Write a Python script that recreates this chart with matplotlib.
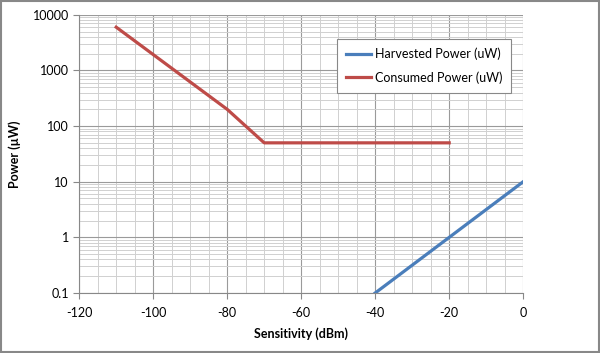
import matplotlib.pyplot as plt
from matplotlib.ticker import MultipleLocator, LogLocator, FixedLocator, NullFormatter
from matplotlib.patches import Rectangle

# series values
harv_x = [-40, -20, 0]
harv_y = [0.1, 1, 10]
cons_x = [-110, -80, -70, -20]
cons_y = [6000, 200, 50, 50]

y_ticks = [0.1, 1, 10, 100, 1000, 10000]
y_labels = ['0.1', '1', '10', '100', '1000', '10000']

plt.rcParams['font.family'] = ['Lato', 'DejaVu Sans']
plt.rcParams['axes.unicode_minus'] = False

fig = plt.figure(figsize=(6, 3.53), dpi=100)
ax = fig.add_axes([0.132, 0.17, 0.74, 0.788])

ax.plot(harv_x, harv_y, color='#4A7EBB', lw=2.3, label='Harvested Power (uW)')
ax.plot(cons_x, cons_y, color='#BE4B48', lw=2.3, label='Consumed Power (uW)')

ax.set_yscale('log')
ax.set_xlim(-120, 0)
ax.set_ylim(0.1, 10000)
ax.xaxis.set_major_locator(MultipleLocator(20))
ax.xaxis.set_minor_locator(MultipleLocator(5))
ax.yaxis.set_major_locator(FixedLocator(y_ticks))
ax.set_yticklabels(y_labels)
ax.yaxis.set_minor_locator(LogLocator(base=10, subs=range(2, 10)))
ax.yaxis.set_minor_formatter(NullFormatter())

ax.grid(True, which='major', color='#9a9a9a', lw=0.8)
ax.grid(True, which='minor', color='#d0d0d0', lw=0.7)
ax.set_axisbelow(True)

for s in ['top', 'right']:
    ax.spines[s].set_visible(False)
for s in ['left', 'bottom']:
    ax.spines[s].set_color('#888888')
ax.tick_params(axis='both', which='major', labelsize=9, length=4, color='#888888', direction='out')
ax.tick_params(axis='both', which='minor', length=0)
ax.tick_params(axis='x', pad=6)

ax.set_xlabel('Sensitivity (dBm)', fontsize=9, fontweight='bold', labelpad=6)
ax.set_ylabel('Power (µW)', fontsize=9, fontweight='bold', labelpad=8)

leg = ax.legend(loc='upper left', bbox_to_anchor=(0.581, 0.914), fontsize=9,
                frameon=True, fancybox=False, edgecolor='#888888', framealpha=1,
                handlelength=2.0, handletextpad=0.3, labelspacing=0.9, borderpad=0.7,
                borderaxespad=0)
leg.get_frame().set_linewidth(0.8)

fig.patches.append(Rectangle((0.002, 0.003), 0.996, 0.994, transform=fig.transFigure,
                             fill=False, edgecolor='#888888', lw=1.5))

fig.savefig('out.png', dpi=100)
